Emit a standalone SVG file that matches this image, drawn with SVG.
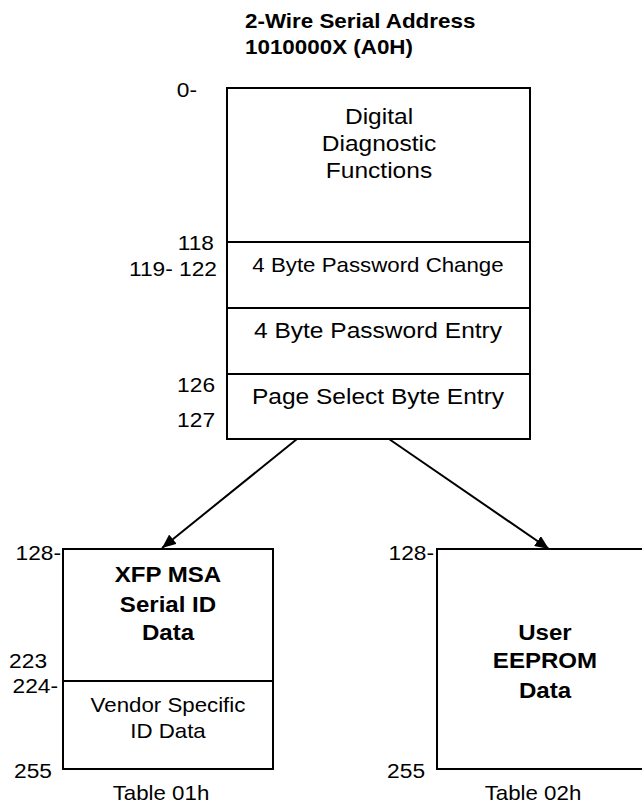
<svg xmlns="http://www.w3.org/2000/svg" width="642" height="803" viewBox="0 0 642 803">
<defs>
<style>
text{font-family:"Liberation Sans",Arial,sans-serif;fill:#000}
.t{font-size:19.9px}
.L{font-size:21.9px}
.n{font-size:20.3px}
.b{font-size:21.5px;font-weight:bold}
.h{font-size:20px;font-weight:bold}
.box{fill:#fff;stroke:#000;stroke-width:2}
.ln{stroke:#000;stroke-width:2;fill:none}
.m{text-anchor:middle}
.e{text-anchor:end}
</style>
<marker id="ah" viewBox="0 0 14 12" refX="14" refY="6" markerWidth="14" markerHeight="12" markerUnits="userSpaceOnUse" orient="auto">
<path d="M0,0 L14,6 L0,12 z" fill="#000"/>
</marker>
</defs>
<g id="title">
<g transform="scale(1.12 1)">
<text class="h" x="218.75" y="28">2-Wire Serial Address</text>
<text class="h" x="218.75" y="54">1010000X (A0H)</text>
</g>
</g>
<g id="main">
<rect class="box" x="227" y="88" width="303" height="351"/>
<line class="ln" x1="227" y1="242" x2="530" y2="242"/>
<line class="ln" x1="227" y1="308" x2="530" y2="308"/>
<line class="ln" x1="227" y1="374" x2="530" y2="374"/>
<g transform="scale(1.12 1)">
<text class="L m" x="338.4" y="124">Digital</text>
<text class="L m" x="338.4" y="151">Diagnostic</text>
<text class="L m" x="338.4" y="178">Functions</text>
<text class="t m" x="337.5" y="272">4 Byte Password Change</text>
<text class="L m" x="337.5" y="338">4 Byte Password Entry</text>
<text class="L m" x="337.5" y="404">Page Select Byte Entry</text>
<text class="n e" x="175.9" y="97">0-</text>
<text class="n e" x="191.1" y="250">118</text>
<text class="n e" x="193.75" y="276">119- 122</text>
<text class="n e" x="192" y="392">126</text>
<text class="n e" x="192" y="427">127</text>
</g>
</g>
<g id="table01">
<rect class="box" x="63" y="549" width="210" height="220"/>
<line class="ln" x1="63" y1="681" x2="273" y2="681"/>
<g transform="scale(1.12 1)">
<text class="b m" x="150" y="582">XFP MSA</text>
<text class="b m" x="150" y="612">Serial ID</text>
<text class="b m" x="150" y="640">Data</text>
<text class="t m" x="150" y="712">Vendor Specific</text>
<text class="t m" x="150" y="738">ID Data</text>
<text class="n e" x="54.5" y="560">128-</text>
<text class="n e" x="42" y="668">223</text>
<text class="n e" x="51.8" y="693">224-</text>
<text class="n e" x="46.4" y="778">255</text>
<text class="t m" x="143.75" y="800">Table 01h</text>
</g>
</g>
<g id="table02">
<rect class="box" x="437" y="549" width="215" height="220"/>
<g transform="scale(1.12 1)">
<text class="b m" x="486.6" y="640">User</text>
<text class="b m" x="486.6" y="668">EEPROM</text>
<text class="b m" x="486.6" y="698">Data</text>
<text class="n e" x="387.5" y="560">128-</text>
<text class="n e" x="379.5" y="778">255</text>
<text class="t m" x="475.9" y="800">Table 02h</text>
</g>
</g>
<g id="connectors">
<line class="ln" x1="297" y1="439" x2="162" y2="548" marker-end="url(#ah)"/>
<line class="ln" x1="389" y1="439" x2="549" y2="549" marker-end="url(#ah)"/>
</g>
</svg>
